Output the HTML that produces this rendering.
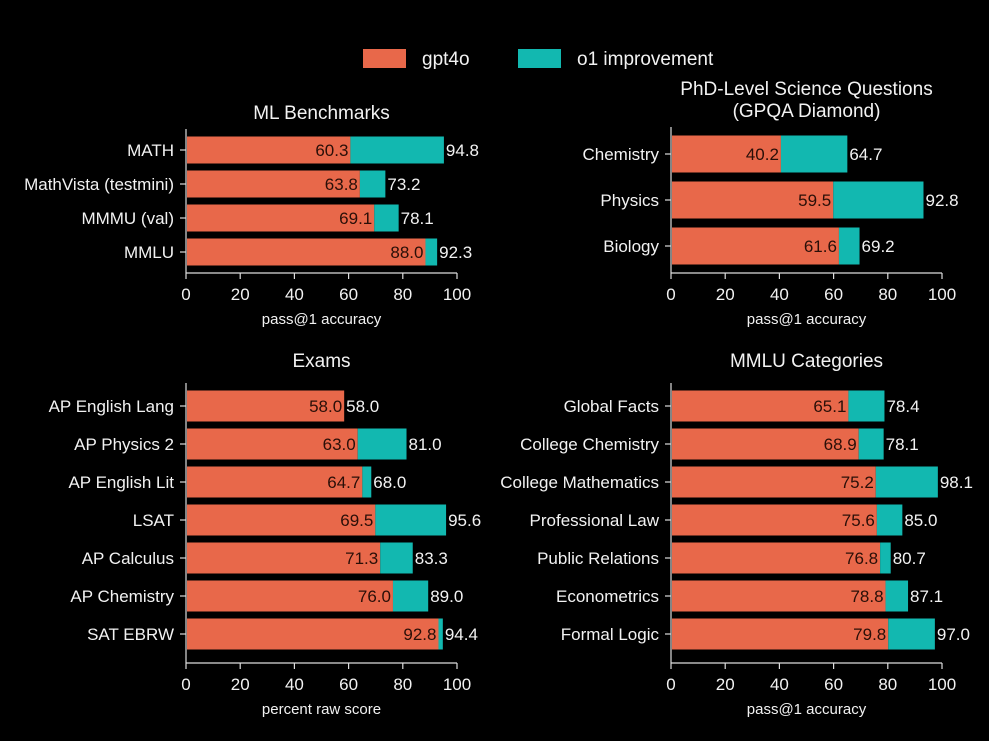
<!DOCTYPE html>
<html><head><meta charset="utf-8"><style>
body{margin:0;background:#000;}
svg{display:block;font-family:"Liberation Sans",sans-serif;}
text{fill:#f2f2f2;}
</style></head><body>
<svg id="c" width="989" height="741">
<rect width="989" height="741" fill="#000"/>
<g>
<rect x="363" y="49" width="43" height="19" fill="#E8684A"/>
<text x="422" y="65" font-size="19">gpt4o</text>
<rect x="518" y="49" width="43" height="19" fill="#12B8B0"/>
<text x="577" y="65" font-size="19">o1 improvement</text>
</g>
</svg>
<script>
const mlCats=["MATH","MathVista (testmini)","MMMU (val)","MMLU"];
const mlBase=[60.3,63.8,69.1,88.0];
const mlO1=[94.8,73.2,78.1,92.3];
const gpCats=["Chemistry","Physics","Biology"];
const gpBase=[40.2,59.5,61.6];
const gpO1=[64.7,92.8,69.2];
const exCats=["AP English Lang","AP Physics 2","AP English Lit","LSAT","AP Calculus","AP Chemistry","SAT EBRW"];
const exBase=[58.0,63.0,64.7,69.5,71.3,76.0,92.8];
const exO1=[58.0,81.0,68.0,95.6,83.3,89.0,94.4];
const mmCats=["Global Facts","College Chemistry","College Mathematics","Professional Law","Public Relations","Econometrics","Formal Logic"];
const mmBase=[65.1,68.9,75.2,75.6,76.8,78.8,79.8];
const mmO1=[78.4,78.1,98.1,85.0,80.7,87.1,97.0];
const ticks=[0,20,40,60,80,100];

const svg=document.getElementById('c');
const NS="http://www.w3.org/2000/svg";
function el(t,a,txt){const e=document.createElementNS(NS,t);for(const k in a)e.setAttribute(k,a[k]);if(txt!==undefined)e.textContent=txt;svg.appendChild(e);return e;}

function panel(p){
  const x=v=>p.x0+(p.x1-p.x0)*v/100;
  const y=i=>p.yt+p.step*(i+0.5);
  p.titles.forEach((t,k)=>{
    const e=el('text',{x:(p.x0+p.x1)/2,y:p.ty+k*22,'font-size':19,'text-anchor':'middle'},t);
    
    
  });
  p.cats.forEach((c,i)=>{
    const cy=y(i);
    const b=el('rect',{x:x(0)+1,y:cy-p.bh/2,width:x(p.base[i])-x(0),height:p.bh,fill:'#E8684A'});
    
    
    const o=el('rect',{x:x(p.base[i])+1,y:cy-p.bh/2,width:Math.max(0,x(p.o1[i])-x(p.base[i])),height:p.bh,fill:'#12B8B0'});
    
    
    const l=el('text',{x:x(p.base[i])-1,y:cy+6,'font-size':17,'text-anchor':'end',style:'fill:#2a0f08'},p.base[i].toFixed(1));
    
    
    const l2=el('text',{x:x(p.o1[i])+3,y:cy+6,'font-size':17},p.o1[i].toFixed(1));
    
    
    const t=el('line',{x1:x(0)-6,x2:x(0),y1:cy,y2:cy,stroke:'#ddd','stroke-width':1.2});
    
    
    const cl=el('text',{x:x(0)-12,y:cy+6,'font-size':17,'text-anchor':'end'},c);
    
    
  });
  const ax=el('line',{x1:x(0),x2:x(0),y1:p.yt-4,y2:p.yb,stroke:'#ddd','stroke-width':1.2});
  
  
  const bx=el('line',{x1:x(0),x2:x(100),y1:p.yb,y2:p.yb,stroke:'#ddd','stroke-width':1.2});
  
  
  ticks.forEach(v=>{
    const tl=el('line',{x1:x(v),x2:x(v),y1:p.yb,y2:p.yb+6,stroke:'#ddd','stroke-width':1.2});
    
    
    const tt=el('text',{x:x(v),y:p.yb+27,'font-size':17,'text-anchor':'middle'},v);
    
    
  });
  const xl=el('text',{x:(p.x0+p.x1)/2,y:p.yb+51,'font-size':15,'text-anchor':'middle'},p.xlabel);
  
  
}
panel({name:'ml',cats:mlCats,base:mlBase,o1:mlO1,x0:186,x1:457,yt:133,step:34,yb:273,bh:27,titles:['ML Benchmarks'],ty:119,xlabel:'pass@1 accuracy'});
panel({name:'gpqa',cats:gpCats,base:gpBase,o1:gpO1,x0:671,x1:942,yt:131,step:46,yb:273,bh:37,titles:['PhD-Level Science Questions','(GPQA Diamond)'],ty:95,xlabel:'pass@1 accuracy'});
panel({name:'exams',cats:exCats,base:exBase,o1:exO1,x0:186,x1:457,yt:387,step:38,yb:663,bh:31,titles:['Exams'],ty:367,xlabel:'percent raw score'});
panel({name:'mmlu',cats:mmCats,base:mmBase,o1:mmO1,x0:671,x1:942,yt:387,step:38,yb:663,bh:31,titles:['MMLU Categories'],ty:367,xlabel:'pass@1 accuracy'});
</script>
</body></html>
